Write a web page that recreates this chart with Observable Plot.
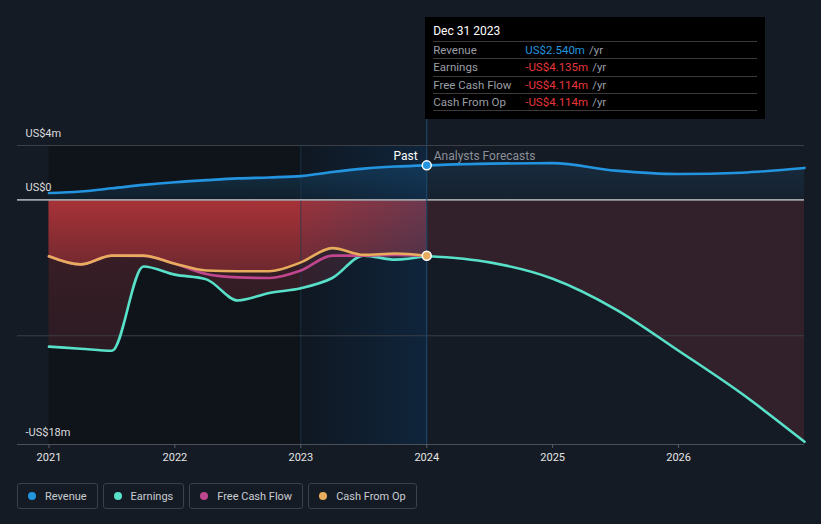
<!DOCTYPE html>
<html>
<head>
<meta charset="utf-8">
<script src="https://cdn.jsdelivr.net/npm/d3@7"></script>
<script src="https://cdn.jsdelivr.net/npm/@observablehq/plot@0.6"></script>
<style>
  html, body { margin: 0; padding: 0; background: #151b25; }
  #wrap { position: relative; width: 821px; height: 524px; overflow: hidden; font-family: Roboto, "Noto Sans", sans-serif; }
  #chart { position: absolute; left: 0; top: 0; }
  #tip { position: absolute; top: 17px; width: 340px; height: 102px; background: #000; box-sizing: border-box; padding: 0 8px; }
  #tip .title { color: #fff; font-size: 12px; font-weight: 400; height: 24px; line-height: 28px; border-bottom: 1px solid #3a3a3a; }
  #tip .row { height: 16.3px; line-height: 16px; font-size: 11.5px; border-bottom: 1px solid #3a3a3a; display: flex; }
  #tip .lab { color: #9a9ea5; width: 92px; }
  #tip .unit { color: #9a9ea5; margin-left: 4px; }
  #legend { position: absolute; left: 17px; top: 483px; display: flex; gap: 5px; }
  .item { height: 26px; box-sizing: border-box; border: 1px solid #3b414b; border-radius: 3px; display: flex; align-items: center; padding: 0 10px 0 10px; color: #c9ccd1; font-size: 11px; }
  .item .dot { width: 8px; height: 8px; border-radius: 50%; margin-right: 9px; }
</style>
</head>
<body>
<div id="wrap">
  <div id="chart"></div>
  <div id="tip"></div>
  <div id="legend"></div>
</div>
<script>
// ---------- data ----------
const pastT = [2021, 2021.25, 2021.5, 2021.75, 2022, 2022.25, 2022.5, 2022.75, 2023, 2023.25, 2023.5, 2023.75, 2024];
const revenuePast  = [0.5, 0.62, 0.85, 1.1, 1.3, 1.45, 1.58, 1.65, 1.75, 2.05, 2.3, 2.45, 2.54];
const earningsPast = [-10.8, -10.95, -11.1, -4.9, -5.5, -5.85, -7.4, -6.85, -6.5, -5.75, -4.1, -4.4, -4.135];
const fcfPast      = [-4.15, -4.75, -4.1, -4.12, -4.7, -5.45, -5.7, -5.75, -5.2, -4.1, -4.1, -4.05, -4.114];
const cfoPast      = [-4.15, -4.75, -4.1, -4.1, -4.7, -5.2, -5.25, -5.25, -4.6, -3.55, -4.05, -3.95, -4.114];

const revFcT        = [2024, 2024.5, 2025, 2025.5, 2026, 2026.5, 2027];
const revenueFc     = [2.54, 2.67, 2.7, 2.15, 1.9, 2.0, 2.35];
const earnFcT       = [2024, 2024.5, 2025, 2025.5, 2026, 2026.5, 2027];
const earningsFc    = [-4.135, -4.6, -5.8, -8.05, -11.1, -14.25, -17.8];

const xDomain = [2020.75, 2027];
const yDomain = [-18, 4];
const xTicks = [2021, 2022, 2023, 2024, 2025, 2026];
const yTickValues = [4, 0, -18];
const yTickLabels = ["US$4m", "US$0", "-US$18m"];
const gridValues = [4, -10];
const bandStart = 2023;

const seriesNames  = ["Revenue", "Earnings", "Free Cash Flow", "Cash From Op"];
const seriesColors = ["#2394df", "#58e0c9", "#c0468e", "#e8ac5d"];
const tipTitle = "Dec 31 2023";
const tipValues = ["US$2.540m", "-US$4.135m", "-US$4.114m", "-US$4.114m"];
const tipValueColors = ["#2394df", "#e8363b", "#e8363b", "#e8363b"];

// ---------- tables ----------
const zip = (t, v) => t.map((x, i) => ({x, y: v[i]}));
const revP = zip(pastT, revenuePast);
const earnP = zip(pastT, earningsPast);
const fcfP = zip(pastT, fcfPast);
const cfoP = zip(pastT, cfoPast);
const revF = zip(revFcT, revenueFc);
const earnF = zip(earnFcT, earningsFc);
const pastStart = pastT[0], pastEnd = pastT[pastT.length - 1];

const defs = () => {
  const ns = "http://www.w3.org/2000/svg";
  const d = document.createElementNS(ns, "defs");
  d.innerHTML = `
    <linearGradient id="gEarnP" x1="0" y1="0" x2="0" y2="1">
      <stop offset="0" stop-color="rgb(120,45,55)" stop-opacity="0.45"/>
      <stop offset="1" stop-color="rgb(120,45,55)" stop-opacity="0.28"/>
    </linearGradient>
    <linearGradient id="gCfo" x1="0" y1="0" x2="0" y2="1">
      <stop offset="0" stop-color="rgb(190,55,60)" stop-opacity="0.82"/>
      <stop offset="1" stop-color="rgb(190,55,60)" stop-opacity="0.42"/>
    </linearGradient>
    <linearGradient id="gRevP" x1="0" y1="0" x2="0" y2="1">
      <stop offset="0" stop-color="rgb(35,148,223)" stop-opacity="0.24"/>
      <stop offset="1" stop-color="rgb(35,148,223)" stop-opacity="0.08"/>
    </linearGradient>
    <linearGradient id="gRevF" x1="0" y1="0" x2="0" y2="1">
      <stop offset="0" stop-color="rgb(35,148,223)" stop-opacity="0.13"/>
      <stop offset="1" stop-color="rgb(35,148,223)" stop-opacity="0.05"/>
    </linearGradient>
    <linearGradient id="gBand" x1="0" y1="0" x2="1" y2="0">
      <stop offset="0" stop-color="rgb(16,64,112)" stop-opacity="0.08"/>
      <stop offset="1" stop-color="rgb(16,64,112)" stop-opacity="0.38"/>
    </linearGradient>`;
  return d;
};

const curve = "monotone-x";
const plot = Plot.plot({
  width: 821,
  height: 470,
  marginTop: 145,
  marginBottom: 26,
  marginLeft: 17,
  marginRight: 17,
  x: {domain: xDomain},
  y: {domain: yDomain, axis: null},
  style: {background: "transparent", fontFamily: "Roboto, sans-serif", fontSize: "11px", color: "#dcdcdc"},
  marks: [
    defs,
    Plot.rect([{a: pastStart, b: pastEnd}], {x1: "a", x2: "b", fill: "#000", fillOpacity: 0.25}),
    Plot.areaY(revP, {x: "x", y1: 0, y2: "y", curve, fill: "url(#gRevP)"}),
    Plot.areaY(revF, {x: "x", y1: 0, y2: "y", curve, fill: "url(#gRevF)"}),
    Plot.areaY(earnP, {x: "x", y1: 0, y2: "y", curve, fill: "url(#gEarnP)"}),
    Plot.areaY(cfoP, {x: "x", y1: 0, y2: "y", curve, fill: "url(#gCfo)"}),
    Plot.areaY(earnF, {x: "x", y1: 0, y2: "y", curve, fill: "rgb(120,45,55)", fillOpacity: 0.3}),
    Plot.rect([{a: bandStart, b: pastEnd}], {x1: "a", x2: "b", fill: "url(#gBand)"}),
    Plot.ruleX([bandStart], {stroke: "#1d3a52", strokeOpacity: 0.7}),
    Plot.ruleY(gridValues, {stroke: "#3a3f48", strokeWidth: 1}),
    Plot.ruleY([0], {stroke: "#a0a3a8", strokeWidth: 1.8}),
    Plot.ruleY([yDomain[0]], {stroke: "#4a4f58", strokeWidth: 1}),
    Plot.ruleX([pastEnd], {stroke: "#1f4e72", strokeWidth: 1, insetTop: -26}),
    Plot.axisX({ticks: xTicks, tickFormat: d => String(d), tickSize: 4, tickPadding: 5, stroke: "#5a5f68", fill: "#e4e4e4", fontSize: 11, label: null}),
    Plot.text(yTickValues, {x: xDomain[0], y: d => d, text: (d, i) => yTickLabels[i], textAnchor: "start", dx: 8, dy: -12, fill: "#dcdcdc", fontSize: 11}),
    Plot.text(["Past"], {x: pastEnd, frameAnchor: "top", lineAnchor: "middle", text: d => d, textAnchor: "end", dx: -9, dy: 11, fill: "#ffffff", fontSize: 12}),
    Plot.text(["Analysts Forecasts"], {x: pastEnd, frameAnchor: "top", lineAnchor: "middle", text: d => d, textAnchor: "start", dx: 7, dy: 11, fill: "#8a8f98", fontSize: 12}),
    Plot.line(earnP, {x: "x", y: "y", curve, stroke: seriesColors[1], strokeWidth: 2.6}),
    Plot.line(earnF, {x: "x", y: "y", curve, stroke: seriesColors[1], strokeWidth: 2.6}),
    Plot.line(fcfP, {x: "x", y: "y", curve, stroke: seriesColors[2], strokeWidth: 2.6}),
    Plot.line(cfoP, {x: "x", y: "y", curve, stroke: seriesColors[3], strokeWidth: 2.6}),
    Plot.line(revP, {x: "x", y: "y", curve, stroke: seriesColors[0], strokeWidth: 2.6}),
    Plot.line(revF, {x: "x", y: "y", curve, stroke: seriesColors[0], strokeWidth: 2.6}),
    Plot.dot([revP[revP.length - 1]], {x: "x", y: "y", r: 4.5, fill: seriesColors[0], stroke: "#fff", strokeWidth: 1.5}),
    Plot.dot([cfoP[cfoP.length - 1]], {x: "x", y: "y", r: 4.5, fill: seriesColors[3], stroke: "#fff", strokeWidth: 1.5})
  ]
});
document.getElementById("chart").appendChild(plot);

// tooltip
const tip = document.getElementById("tip");
tip.style.left = (plot.scale("x").apply(pastEnd) - 1) + "px";
let html = `<div class="title">${tipTitle}</div>`;
seriesNames.forEach((n, i) => {
  html += `<div class="row"><span class="lab">${n}</span><span style="color:${tipValueColors[i]}">${tipValues[i]}</span><span class="unit">/yr</span></div>`;
});
tip.innerHTML = html;

// legend
const leg = document.getElementById("legend");
seriesNames.forEach((n, i) => {
  const it = document.createElement("div");
  it.className = "item";
  it.innerHTML = `<span class="dot" style="background:${seriesColors[i]}"></span><span>${n}</span>`;
  leg.appendChild(it);
});
</script>
</body>
</html>
